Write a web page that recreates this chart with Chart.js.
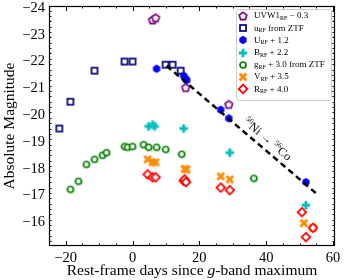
<!DOCTYPE html>
<html><head><meta charset="utf-8">
<script src="https://cdn.jsdelivr.net/npm/chart.js@4"></script>
<style>html,body{margin:0;padding:0;background:#fff}#wrap{width:350px;height:280px;position:relative}</style>
</head><body><div id="wrap"><canvas id="c"></canvas></div>
<script>
// ---- data ----
const uvw1X = [6.0, 6.9, 15.9, 28.8];
const uvw1Y = [-23.55, -23.63, -21.03, -20.4];
const uztfX = [-21.9, -18.6, -11.4, -2.4, 0.0, 9.9, 12.0, 14.4];
const uztfY = [-19.5, -20.5, -21.66, -22.0, -22.0, -21.88, -21.88, -21.66];
const uX = [7.2, 15.3, 15.9, 16.2, 26.4, 28.8, 51.9];
const uY = [-21.73, -21.47, -21.36, -21.3, -20.2, -19.88, -17.5];
const bX = [4.8, 6.0, 6.6, 15.3, 29.1, 51.9];
const bY = [-19.58, -19.65, -19.58, -19.5, -18.6, -16.64];
const gX = [-18.6, -16.2, -13.8, -11.4, -9.0, -7.8, -2.4, -1.5, 0.0, 3.3, 4.8, 7.2, 9.9, 14.7, 36.3];
const gY = [-17.23, -17.53, -18.16, -18.35, -18.5, -18.6, -18.83, -18.8, -18.83, -18.9, -18.8, -18.8, -18.72, -18.54, -17.64];
const vX = [4.5, 6.0, 6.9, 15.6, 16.2, 26.4, 29.1, 51.3, 54.0];
const vY = [-18.35, -18.24, -18.24, -18.0, -17.97, -17.72, -17.6, -15.97, -15.8];
const rX = [4.5, 6.0, 6.9, 15.3, 15.6, 16.0, 26.4, 29.1, 50.7, 51.9, 54.0];
const rY = [-17.79, -17.68, -17.68, -17.55, -17.6, -17.5, -17.3, -17.2, -16.38, -15.45, -15.8];
const niCoX = [10.2, 54.9];
const niCoY = [-21.84, -17.09];
const xTicks = [-20, 0, 20, 40, 60];
const yTicks = [-24, -23, -22, -21, -20, -19, -18, -17, -16];
const legendMain = ['UVW1', 'u', 'U', 'B', 'g', 'V', 'R'];
const legendSub = ['RF', 'RF', 'RF', 'RF', 'RF', 'RF', 'RF'];
const legendTail = [' \u2212 0.3', ' from ZTF', ' + 1.2', ' + 2.2', ' + 3.0 from ZTF', ' + 3.5', ' + 4.0'];
const xTitleParts = ['Rest-frame days since ', 'g', '-band maximum'];

const SERIF = '"Liberation Serif", "Times New Roman", serif';

// ---- marker images ----
function mk(w, draw){ const c=document.createElement('canvas'); c.width=w; c.height=w; const g=c.getContext('2d'); draw(g, w/2); return c; }
function poly(g, pts){ g.beginPath(); pts.forEach((p,i)=> i?g.lineTo(p[0],p[1]):g.moveTo(p[0],p[1])); g.closePath(); }
const pentImg = mk(12,(g,c)=>{ const p=[]; for(let i=0;i<5;i++){const a=-Math.PI/2+i*2*Math.PI/5; p.push([c+4.0*Math.cos(a), c+0.4+4.0*Math.sin(a)]);} poly(g,p); g.fillStyle='#fff'; g.fill(); g.lineWidth=1.7; g.strokeStyle='#800080'; g.stroke(); });
const sqImg = mk(12,(g,c)=>{ g.fillStyle='#fff'; g.fillRect(c-3,c-3,6,6); g.lineWidth=1.7; g.strokeStyle='#000080'; g.strokeRect(c-3,c-3,6,6); });
const hexImg = mk(12,(g,c)=>{ const p=[]; for(let i=0;i<6;i++){const a=-Math.PI/2+i*Math.PI/3; p.push([c+4.2*Math.cos(a), c+4.2*Math.sin(a)]);} poly(g,p); g.fillStyle='#0000ff'; g.fill(); });
function plusPts(c, L, t, rot){ const base=[[-t,-L],[t,-L],[t,-t],[L,-t],[L,t],[t,t],[t,L],[-t,L],[-t,t],[-L,t],[-L,-t],[-t,-t]]; const cs=Math.cos(rot), sn=Math.sin(rot); return base.map(([x,y])=>[c+x*cs-y*sn, c+x*sn+y*cs]); }
const plusImg = mk(12,(g,c)=>{ poly(g, plusPts(c,4.2,1.4,0)); g.fillStyle='#00bfbf'; g.fill(); });
const xImg = mk(14,(g,c)=>{ poly(g, plusPts(c,4.8,1.4,Math.PI/4)); g.fillStyle='#ff8c00'; g.fill(); });
const circImg = mk(12,(g,c)=>{ g.beginPath(); g.arc(c,c,3.0,0,2*Math.PI); g.fillStyle='#fff'; g.fill(); g.lineWidth=1.7; g.strokeStyle='#008000'; g.stroke(); });
const diaImg = mk(14,(g,c)=>{ poly(g,[[c,c-4.3],[c+4.3,c],[c,c+4.3],[c-4.3,c]]); g.fillStyle='#fff'; g.fill(); g.lineWidth=1.8; g.strokeStyle='#ff0000'; g.stroke(); });
const legendImgs = [pentImg, sqImg, hexImg, plusImg, circImg, xImg, diaImg];

const pts = (xs, ys) => xs.map((x,i)=>({x, y: ys[i]}));
function sc(label, xs, ys, img, order){ return {label, data: pts(xs,ys), pointStyle: img, pointRadius: 5, pointHoverRadius: 5, showLine:false, order}; }

const fmt = v => (v<0 ? '\u2212'+Math.abs(v) : String(v));

// ---- custom drawing: frame, inward ticks, legend, annotation ----
const deco = {
  id: 'deco',
  afterDatasetsDraw(chart){
    const {ctx, chartArea:a, scales:{x, y}} = chart;
    ctx.save();
    ctx.strokeStyle = '#000'; ctx.lineWidth = 1;
    ctx.beginPath();
    for (let v = -25; v <= 61; v += 5) {
      if (v < x.min || v > x.max) continue;
      const px = Math.round(x.getPixelForValue(v)) + 0.5;
      const L = (v % 20 === 0) ? 5 : 2.5;
      ctx.moveTo(px, a.bottom); ctx.lineTo(px, a.bottom - L);
      ctx.moveTo(px, a.top); ctx.lineTo(px, a.top + L);
    }
    for (let k = -241; k <= -150; k += 2) {
      const v = k/10;
      if (v < y.min || v > y.max) continue;
      const py = Math.round(y.getPixelForValue(v)) + 0.5;
      const L = (k % 10 === 0) ? 5 : 2.5;
      ctx.moveTo(a.left, py); ctx.lineTo(a.left + L, py);
      ctx.moveTo(a.right, py); ctx.lineTo(a.right - L, py);
    }
    ctx.stroke();
    ctx.lineWidth = 1.2;
    ctx.strokeRect(a.left + 0.5, a.top + 0.5, a.right - a.left - 1, a.bottom - a.top - 1);

    // x-axis title with italic g
    ctx.fillStyle = '#000'; ctx.textBaseline = 'middle';
    const fonts = ['15.5px ' + SERIF, 'italic 15.5px ' + SERIF, '15.5px ' + SERIF];
    let tot = 0; xTitleParts.forEach((t,i)=>{ ctx.font = fonts[i]; tot += ctx.measureText(t).width; });
    let tx0 = (a.left + a.right)/2 - tot/2;
    xTitleParts.forEach((t,i)=>{ ctx.font = fonts[i]; ctx.fillText(t, tx0, 271); tx0 += ctx.measureText(t).width; });

    // 56Ni -> 56Co annotation
    const p1x = x.getPixelForValue(niCoX[0]), p1y = y.getPixelForValue(niCoY[0]);
    const p2x = x.getPixelForValue(niCoX[1]), p2y = y.getPixelForValue(niCoY[1]);
    const ang = Math.atan2(p2y - p1y, p2x - p1x);
    const ax = 38.5, ay = niCoY[0] + (ax - niCoX[0]) * (niCoY[1]-niCoY[0])/(niCoX[1]-niCoX[0]);
    const cx = x.getPixelForValue(ax) + 10*Math.sin(ang), cy = y.getPixelForValue(ay) - 10*Math.cos(ang);
    ctx.translate(cx, cy); ctx.rotate(ang);
    ctx.textBaseline = 'alphabetic';
    const parts = [['56', 7.5, -4.5], ['Ni \u2192 ', 12, 0], ['56', 7.5, -4.5], ['Co', 12, 0]];
    let tw = 0; parts.forEach(p => { ctx.font = p[1]+'px '+SERIF; tw += ctx.measureText(p[0]).width; });
    let tx = -tw/2;
    parts.forEach(p => { ctx.font = p[1]+'px '+SERIF; ctx.fillText(p[0], tx, 4 + p[2]); tx += ctx.measureText(p[0]).width; });
    ctx.restore();

    // legend
    ctx.save();
    const lx = 236.5, ly = 9.5, lw = 95, lh = 91;
    ctx.beginPath();
    if (ctx.roundRect) ctx.roundRect(lx, ly, lw, lh, 2); else ctx.rect(lx, ly, lw, lh);
    ctx.fillStyle = 'rgba(255,255,255,0.85)'; ctx.fill();
    ctx.strokeStyle = '#cccccc'; ctx.lineWidth = 1; ctx.stroke();
    ctx.textBaseline = 'middle'; ctx.fillStyle = '#000';
    for (let i = 0; i < legendMain.length; i++) {
      const ry = 16 + i * 12.2;
      const img = legendImgs[i];
      ctx.drawImage(img, Math.round(243 - img.width/2), Math.round(ry - img.height/2));
      let t = 254;
      ctx.font = '9px ' + SERIF; ctx.fillText(legendMain[i], t, ry); t += ctx.measureText(legendMain[i]).width;
      ctx.font = '6px ' + SERIF; ctx.fillText(legendSub[i], t, ry + 2.5); t += ctx.measureText(legendSub[i]).width;
      ctx.font = '9px ' + SERIF; ctx.fillText(legendTail[i], t, ry);
    }
    ctx.restore();
  }
};

new Chart(document.getElementById('c'), {
  type: 'scatter',
  data: { datasets: [
    {label: 'Ni-Co', data: pts(niCoX, niCoY), showLine: true, borderColor: '#000', borderWidth: 2.5, borderDash: [6, 4], pointRadius: 0, order: 0, fill: false},
    sc('UVW1', uvw1X, uvw1Y, pentImg, 7),
    sc('u ZTF', uztfX, uztfY, sqImg, 6),
    sc('U', uX, uY, hexImg, 5),
    sc('B', bX, bY, plusImg, 4),
    sc('g', gX, gY, circImg, 3),
    sc('V', vX, vY, xImg, 2),
    sc('R', rX, rY, diaImg, 1)
  ]},
  options: {
    responsive: true, maintainAspectRatio: false, animation: false,
    layout: { padding: { top: 5, right: 15, left: 0, bottom: 0 } },
    plugins: { legend: { display: false }, tooltip: { enabled: false } },
    scales: {
      x: {
        type: 'linear', min: -25, max: 60.6,
        grid: { display: false, drawTicks: false }, border: { display: false },
        afterBuildTicks: s => { s.ticks = xTicks.map(v => ({value: v})); },
        afterFit: s => { s.height = 34; s.paddingLeft = 0; s.paddingRight = 0; },
        ticks: { color: '#000', padding: 3, maxRotation: 0, autoSkip: false, font: { family: SERIF, size: 14.5 }, callback: fmt },
        title: { display: false }
      },
      y: {
        type: 'linear', reverse: true, min: -24.07, max: -15.12,
        grid: { display: false, drawTicks: false }, border: { display: false },
        afterBuildTicks: s => { s.ticks = yTicks.map(v => ({value: v})); },
        afterFit: s => { s.width = 49; s.paddingTop = 0; s.paddingBottom = 0; },
        ticks: { color: '#000', padding: 4, autoSkip: false, font: { family: SERIF, size: 14.5 }, callback: fmt },
        title: { display: true, text: 'Absolute Magnitude', color: '#000', padding: { top: 2, bottom: 0 }, font: { family: SERIF, size: 15.5, lineHeight: 1 } }
      }
    }
  },
  plugins: [deco]
});
</script>
</body></html>
